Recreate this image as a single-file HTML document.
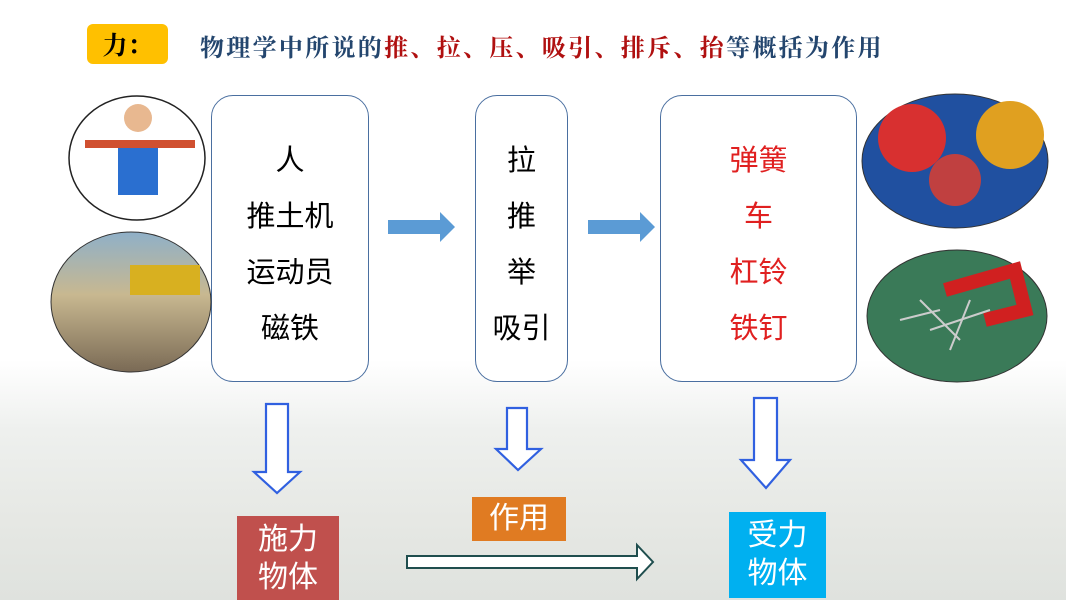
<!DOCTYPE html>
<html><head><meta charset="utf-8"><style>
body{margin:0;width:1066px;height:600px;overflow:hidden;position:relative;font-family:"Liberation Sans","Noto Sans CJK SC",sans-serif;
background:linear-gradient(#fff 0px,#fff 360px,#eef0ee 430px,#e6e8e4 520px,#dfe2de 600px);}
.a{position:absolute}
.box{position:absolute;border:1px solid #4a6fa0;border-radius:22px;background:#fff;text-align:center;font-size:29px;line-height:56px;box-sizing:border-box}
.box div{position:absolute;top:37px;left:0;width:100%}
.t{position:absolute;color:#fff;font-size:30px;text-align:center;line-height:38px}
</style></head><body>
<div class="a" style="left:87px;top:24px;width:81px;height:40px;background:#ffc000;border-radius:6px;font:bold 25px 'Noto Serif CJK SC',serif;line-height:40px;text-align:center">力：</div>
<div class="a" style="left:200px;top:31px;font:bold 24px 'Noto Serif CJK SC',serif;line-height:30px;color:#24466e;letter-spacing:2.3px;white-space:nowrap">物理学中所说的<span style="color:#b01010">推、拉、压、吸引、排斥、抬</span>等概括为作用</div>

<div class="box" style="left:211px;top:95px;width:158px;height:287px"><div>人<br>推土机<br>运动员<br>磁铁</div></div>
<div class="box" style="left:475px;top:95px;width:93px;height:287px"><div>拉<br>推<br>举<br>吸引</div></div>
<div class="box" style="left:660px;top:95px;width:197px;height:287px;color:#e02020"><div>弹簧<br>车<br>杠铃<br>铁钉</div></div>

<svg class="a" style="left:0;top:0" width="1066" height="600">
<defs><linearGradient id="g1" x1="0" y1="0" x2="0" y2="1"><stop offset="0" stop-color="#8fb0c8"/><stop offset="0.45" stop-color="#c8b890"/><stop offset="1" stop-color="#7a6a55"/></linearGradient></defs>
<ellipse cx="137" cy="158" rx="68" ry="62" fill="#fff" stroke="#222" stroke-width="1.5"/>
<rect x="118" y="140" width="40" height="55" fill="#2a6fd0"/><circle cx="138" cy="118" r="14" fill="#e8b890"/><rect x="85" y="140" width="110" height="8" fill="#d05030"/>
<ellipse cx="131" cy="302" rx="80" ry="70" fill="url(#g1)" stroke="#333"/>
<rect x="130" y="265" width="70" height="30" fill="#d8b020"/>
<ellipse cx="955" cy="161" rx="93" ry="67" fill="#2050a0" stroke="#333"/>
<circle cx="912" cy="138" r="34" fill="#d83030"/><circle cx="1010" cy="135" r="34" fill="#e0a020"/><circle cx="955" cy="180" r="26" fill="#c04040"/>
<ellipse cx="957" cy="316" rx="90" ry="66" fill="#3a7a58" stroke="#333"/>
<path d="M945 290 L1015 270 L1025 310 L985 320" fill="none" stroke="#d02020" stroke-width="14"/>
<g stroke="#ccc" stroke-width="2"><line x1="920" y1="300" x2="960" y2="340"/><line x1="930" y1="330" x2="990" y2="310"/><line x1="950" y1="350" x2="970" y2="300"/><line x1="900" y1="320" x2="940" y2="310"/></g>
<polygon points="388,220 440,220 440,212 455,227 440,242 440,234 388,234" fill="#5b9bd5"/>
<polygon points="588,220 640,220 640,212 655,227 640,242 640,234 588,234" fill="#5b9bd5"/>
<g fill="#fff" stroke="#3060e0" stroke-width="2.2" stroke-linejoin="miter">
<polygon points="266,404 288,404 288,472 300,472 277,493 254,472 266,472"/>
<polygon points="507,408 527,408 527,449 541,449 518,470 496,449 507,449"/>
<polygon points="754,398 777,398 777,460 790,460 766,488 741,460 754,460"/>
</g>
<polygon points="407,556 637,556 637,545 653,562 637,579 637,568 407,568" fill="#fff" stroke="#1f4e4e" stroke-width="2"/>
</svg>
<div class="t" style="left:237px;top:516px;width:102px;height:84px;background:#c0504d;padding-top:5px;box-sizing:border-box">施力<br>物体</div>
<div class="t" style="left:472px;top:497px;width:94px;height:44px;background:#e07b22;line-height:44px">作用</div>
<div class="t" style="left:729px;top:512px;width:97px;height:86px;background:#00b0f0;padding-top:5px;box-sizing:border-box">受力<br>物体</div>
</body></html>
